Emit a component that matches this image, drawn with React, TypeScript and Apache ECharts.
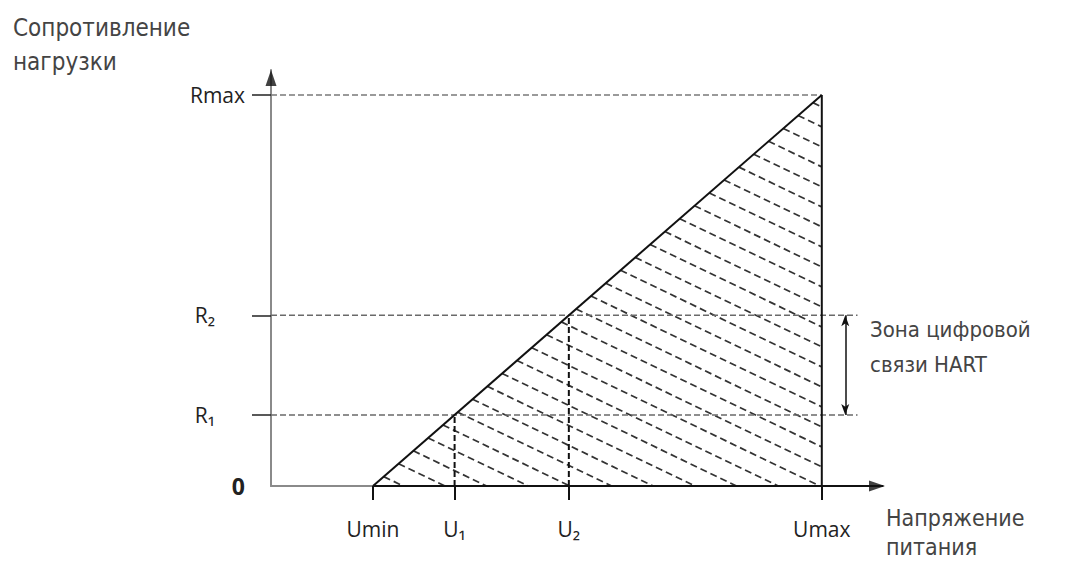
import React, { useEffect, useRef } from 'react';
import * as echarts from 'echarts';

// ---- data ----
const xTickNames = ['Umin', 'U₁', 'U₂', 'Umax'];
const xTickValues = [10, 18, 29.2, 54];
const yTickNames = ['0', 'R₁', 'R₂', 'Rmax'];
const yTickValues = [0, 200, 480, 1100];
const xAxisMax = 60;
const yAxisMax = 1170;
const zoneGuideEnd = 57.5;
const zoneArrowX = 56.3;
const yTitle = ['Сопротивление', 'нагрузки'];
const xTitle = ['Напряжение', 'питания'];
const zoneTitle = ['Зона цифровой', 'связи HART'];

const [Umin, U1, U2, Umax] = xTickValues;
const [, R1, R2, Rmax] = yTickValues;

const TITLE_FONT = '"DejaVu Sans Condensed", "Liberation Sans Narrow", "DejaVu Sans", sans-serif';
const LABEL_FONT = '"Open Sans", "Noto Sans", "DejaVu Sans", sans-serif';

function seg(a: number[], b: number[], color: string, width: number, dashed: boolean, z = 3) {
  return {
    type: 'line',
    data: [a, b],
    symbol: 'none',
    silent: true,
    z,
    lineStyle: { color, width, type: dashed ? [6, 3] : 'solid' },
  };
}

export default function App() {
  const ref = useRef<HTMLDivElement>(null);
  useEffect(() => {
    if (!ref.current) return;
    const chart = echarts.init(ref.current, null, { renderer: 'svg' });
    const option: any = {
      animation: false,
      grid: { left: 271, top: 70, width: 612, height: 416 },
      xAxis: {
        type: 'value',
        min: 0,
        max: xAxisMax,
        axisLine: { show: true, lineStyle: { color: '#8a8a8a', width: 2 } },
        splitLine: { show: false },
        axisTick: {
          show: true,
          customValues: xTickValues,
          length: 14,
          lineStyle: { color: '#111', width: 2 },
        },
        axisLabel: {
          customValues: xTickValues,
          margin: 32,
          fontSize: 21,
          fontFamily: LABEL_FONT,
          color: '#222',
          formatter: (v: number) => {
            const i = xTickValues.indexOf(v);
            return i >= 0 ? xTickNames[i] : '';
          },
        },
      },
      yAxis: {
        type: 'value',
        min: 0,
        max: yAxisMax,
        axisLine: { show: true, lineStyle: { color: '#8a8a8a', width: 2 } },
        splitLine: { show: false },
        axisTick: {
          show: true,
          customValues: [R1, R2, Rmax],
          length: 19,
          lineStyle: { color: '#222', width: 1.5 },
        },
        axisLabel: {
          customValues: yTickValues,
          margin: 26,
          fontSize: 21,
          fontFamily: LABEL_FONT,
          color: '#222',
          formatter: (v: number) => {
            const i = yTickValues.indexOf(v);
            if (i < 0) return '';
            if (i === 0) return '{z|' + yTickNames[i] + '}';
            if (i === 3) return yTickNames[i];
            return '{s|' + yTickNames[i] + '}';
          },
          rich: {
            z: { fontSize: 23, fontFamily: LABEL_FONT, color: '#222', fontWeight: 'bold' },
            s: { fontSize: 21, fontFamily: LABEL_FONT, color: '#222', padding: [0, 30, 0, 0] },
          },
        },
      },
      series: [
        // hatching inside the triangle
        {
          type: 'custom',
          silent: true,
          z: 1,
          data: [[Umin, 0]],
          renderItem: (params: any, api: any) => {
            const A = api.coord([Umin, 0]);
            const B = api.coord([Umax, 0]);
            const C = api.coord([Umax, Rmax]);
            const poly = [A, B, C];
            const m = 0.48;
            const step = 20;
            const cs = poly.map((p) => p[1] - m * p[0]);
            const cmin = Math.min(...cs);
            const cmax = Math.max(...cs);
            const children: any[] = [];
            for (let c = cmin + step * 0.6; c < cmax; c += step) {
              const pts: number[][] = [];
              for (let k = 0; k < 3; k++) {
                const P = poly[k];
                const Q = poly[(k + 1) % 3];
                const fP = P[1] - m * P[0] - c;
                const fQ = Q[1] - m * Q[0] - c;
                if ((fP <= 0 && fQ > 0) || (fP > 0 && fQ <= 0)) {
                  const t = fP / (fP - fQ);
                  pts.push([P[0] + t * (Q[0] - P[0]), P[1] + t * (Q[1] - P[1])]);
                }
              }
              if (pts.length >= 2) {
                pts.sort((a, b) => a[0] - b[0]);
                children.push({
                  type: 'line',
                  shape: { x1: pts[0][0], y1: pts[0][1], x2: pts[pts.length - 1][0], y2: pts[pts.length - 1][1] },
                  style: { stroke: '#333', lineWidth: 1.7, lineDash: [7, 4] },
                });
              }
            }
            return { type: 'group', children };
          },
        },
        // gray dashed guides
        seg([0, Rmax], [Umax, Rmax], '#7a7a7a', 1.5, true, 2),
        seg([0, R2], [zoneGuideEnd, R2], '#6a6a6a', 1.5, true, 2),
        seg([0, R1], [zoneGuideEnd, R1], '#6a6a6a', 1.5, true, 2),
        // vertical dashed at U1, U2
        seg([U1, 0], [U1, R1], '#111', 2, true, 4),
        seg([U2, 0], [U2, R2], '#111', 2, true, 4),
        // triangle outline
        seg([Umin, 0], [Umax, Rmax], '#111', 2, false, 5),
        seg([Umax, 0], [Umax, Rmax], '#111', 2, false, 5),
        seg([Umin, 0], [xAxisMax, 0], '#111', 2, false, 5),
        // HART zone arrow
        {
          type: 'line',
          data: [],
          silent: true,
          markLine: {
            silent: true,
            symbol: ['arrow', 'arrow'],
            symbolSize: [6, 11],
            label: { show: false },
            lineStyle: { color: '#111', width: 1.5, type: 'solid' },
            data: [[{ coord: [zoneArrowX, R1] }, { coord: [zoneArrowX, R2] }]],
          },
        },
        // axis arrows
        {
          type: 'scatter',
          silent: true,
          clip: false,
          z: 6,
          data: [[0, yAxisMax]],
          symbol: 'triangle',
          symbolSize: [11, 16],
          symbolOffset: [0, 8],
          itemStyle: { color: '#111' },
        },
        {
          type: 'scatter',
          silent: true,
          clip: false,
          z: 6,
          data: [[xAxisMax, 0]],
          symbol: 'triangle',
          symbolSize: [11, 16],
          symbolRotate: -90,
          symbolOffset: [-6, 0],
          itemStyle: { color: '#111' },
        },
      ],
      graphic: [
        {
          type: 'text',
          left: 13,
          top: 11,
          silent: true,
          style: { text: yTitle.join('\n'), fontSize: 24, lineHeight: 34, fontFamily: TITLE_FONT, fill: '#444' },
        },
        {
          type: 'text',
          left: 870,
          top: 312,
          silent: true,
          style: { text: zoneTitle.join('\n'), fontSize: 22, lineHeight: 35, fontFamily: TITLE_FONT, fill: '#444' },
        },
        {
          type: 'text',
          left: 886,
          top: 503,
          silent: true,
          style: { text: xTitle.join('\n'), fontSize: 23, lineHeight: 29, fontFamily: TITLE_FONT, fill: '#444' },
        },
      ],
    };
    chart.setOption(option);
    return () => chart.dispose();
  }, []);
  return (
    <div
      ref={ref}
      style={{ position: 'fixed', left: 0, top: 0, width: 1066, height: 563, background: '#fff' }}
    />
  );
}
